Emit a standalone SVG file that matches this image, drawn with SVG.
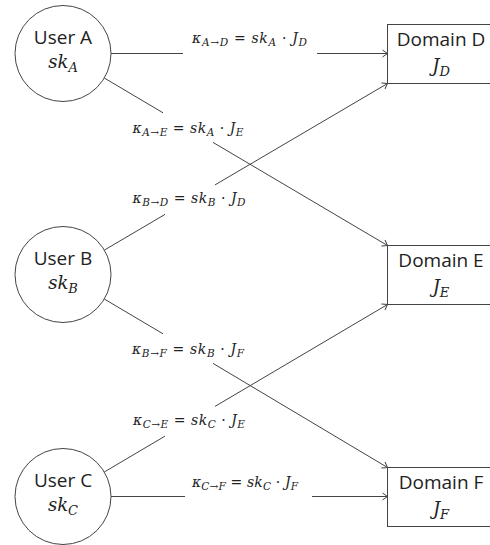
<svg xmlns="http://www.w3.org/2000/svg" width="490" height="545" viewBox="0 0 490 545">
<style>
.bg{fill:#ffffff}
.user{fill:#ffffff;stroke:#444;stroke-width:1}
.dom{fill:#ffffff;stroke:#444;stroke-width:1}
.name{font-family:"Open Sans","DejaVu Sans",sans-serif;font-size:19px;fill:#222;text-anchor:middle}
.math{font-family:"DejaVu Serif",serif;font-style:italic;font-size:18px;fill:#222;text-anchor:middle}
.msub{font-size:13px}
.edge{fill:none;stroke:#444;stroke-width:1}
.lbl{font-family:"DejaVu Serif",serif;font-style:italic;font-size:14px;fill:#222;text-anchor:middle}
.sub{font-size:10.5px}
.up{font-style:normal}
</style>
<defs>
<marker id="arr" markerUnits="userSpaceOnUse" markerWidth="10" markerHeight="10" viewBox="-6 -5 7 10" refX="0" refY="0" orient="auto">
<path d="M -5 -3.5 L 0 0 L -5 3.5" fill="none" stroke="#444" stroke-width="1"/>
</marker>
</defs>
<rect class="bg" x="0" y="0" width="490" height="545"/>
<g id="connectors">
<path class="edge" marker-end="url(#arr)" d="M 111 53.5 L 183 53.5 M 317 53.5 L 387.5 53.5"/>
<path class="edge" marker-end="url(#arr)" d="M 104.3 78 L 163 112.8 M 213 142.4 L 387.5 245.5"/>
<path class="edge" marker-end="url(#arr)" d="M 104.4 250.1 L 165 214.4 M 215 184.9 L 387.5 83.5"/>
<path class="edge" marker-end="url(#arr)" d="M 104.3 299 L 163 333.8 M 213 363.4 L 387.5 467.5"/>
<path class="edge" marker-end="url(#arr)" d="M 104.3 472 L 165 436.1 M 215 406.4 L 387.5 304.5"/>
<path class="edge" marker-end="url(#arr)" d="M 111 496.5 L 185 496.5 M 312 496.5 L 387.5 496.5"/>
<text class="lbl" x="249.5" y="43" textLength="115" lengthAdjust="spacing">κ<tspan class="sub" dy="3">A→D</tspan><tspan class="up" dy="-3"> = </tspan>sk<tspan class="sub" dy="3">A</tspan><tspan class="up" dy="-3"> · </tspan>J<tspan class="sub" dy="3">D</tspan></text>
<text class="lbl" x="188" y="132.5" textLength="111" lengthAdjust="spacing">κ<tspan class="sub" dy="3">A→E</tspan><tspan class="up" dy="-3"> = </tspan>sk<tspan class="sub" dy="3">A</tspan><tspan class="up" dy="-3"> · </tspan>J<tspan class="sub" dy="3">E</tspan></text>
<text class="lbl" x="189" y="203" textLength="113" lengthAdjust="spacing">κ<tspan class="sub" dy="3">B→D</tspan><tspan class="up" dy="-3"> = </tspan>sk<tspan class="sub" dy="3">B</tspan><tspan class="up" dy="-3"> · </tspan>J<tspan class="sub" dy="3">D</tspan></text>
<text class="lbl" x="188" y="353.5" textLength="112" lengthAdjust="spacing">κ<tspan class="sub" dy="3">B→F</tspan><tspan class="up" dy="-3"> = </tspan>sk<tspan class="sub" dy="3">B</tspan><tspan class="up" dy="-3"> · </tspan>J<tspan class="sub" dy="3">F</tspan></text>
<text class="lbl" x="189" y="424.5" textLength="112" lengthAdjust="spacing">κ<tspan class="sub" dy="3">C→E</tspan><tspan class="up" dy="-3"> = </tspan>sk<tspan class="sub" dy="3">C</tspan><tspan class="up" dy="-3"> · </tspan>J<tspan class="sub" dy="3">E</tspan></text>
<text class="lbl" x="245" y="487" textLength="106" lengthAdjust="spacing">κ<tspan class="sub" dy="3">C→F</tspan><tspan class="up" dy="-3"> = </tspan>sk<tspan class="sub" dy="3">C</tspan><tspan class="up" dy="-3"> · </tspan>J<tspan class="sub" dy="3">F</tspan></text>
</g>
<g id="userA">
<circle class="user" cx="63" cy="53.5" r="48"/>
<text class="name" x="63" y="44">User A</text>
<text class="math" x="63" y="68">sk<tspan class="msub" dy="4">A</tspan></text>
</g>
<g id="userB">
<circle class="user" cx="63" cy="274.5" r="48"/>
<text class="name" x="63" y="265">User B</text>
<text class="math" x="63" y="289">sk<tspan class="msub" dy="4">B</tspan></text>
</g>
<g id="userC">
<circle class="user" cx="63" cy="496.5" r="48"/>
<text class="name" x="63" y="487">User C</text>
<text class="math" x="63" y="511">sk<tspan class="msub" dy="4">C</tspan></text>
</g>
<g id="domainD">
<rect class="dom" x="387.5" y="24.5" width="108" height="59"/>
<text class="name" x="441" y="46">Domain D</text>
<text class="math" x="441" y="72">J<tspan class="msub" dy="4">D</tspan></text>
</g>
<g id="domainE">
<rect class="dom" x="387.5" y="245.5" width="108" height="59"/>
<text class="name" x="441" y="267">Domain E</text>
<text class="math" x="441" y="293">J<tspan class="msub" dy="4">E</tspan></text>
</g>
<g id="domainF">
<rect class="dom" x="387.5" y="467.5" width="108" height="59"/>
<text class="name" x="441" y="489">Domain F</text>
<text class="math" x="441" y="515">J<tspan class="msub" dy="4">F</tspan></text>
</g>
</svg>
